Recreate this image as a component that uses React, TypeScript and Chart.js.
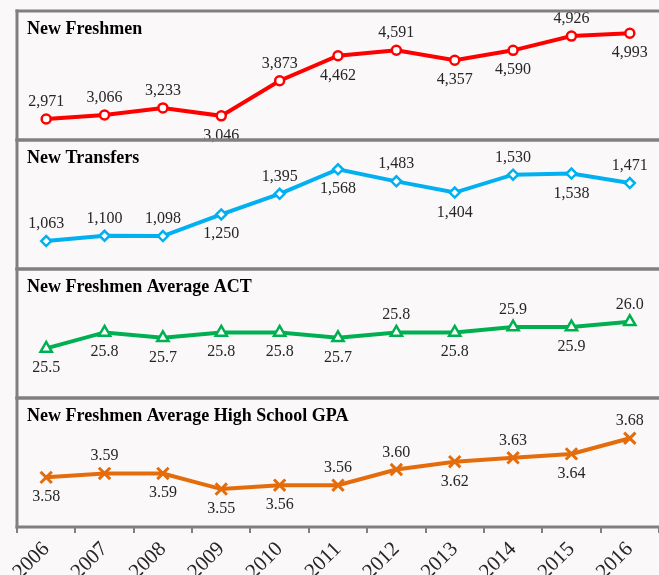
import React, { useEffect, useRef } from 'react';
import { Chart, registerables } from 'chart.js';

Chart.register(...registerables);

const years = ['2006', '2007', '2008', '2009', '2010', '2011', '2012', '2013', '2014', '2015', '2016'];
const newFreshmen = [2971, 3066, 3233, 3046, 3873, 4462, 4591, 4357, 4590, 4926, 4993];
const newTransfers = [1063, 1100, 1098, 1250, 1395, 1568, 1483, 1404, 1530, 1538, 1471];
const avgACT = [25.5, 25.8, 25.7, 25.8, 25.8, 25.7, 25.8, 25.8, 25.9, 25.9, 26.0];
const avgGPA = [3.58, 3.59, 3.59, 3.55, 3.56, 3.56, 3.60, 3.62, 3.63, 3.64, 3.68];

const panelTitles = [
  'New Freshmen',
  'New Transfers',
  'New Freshmen Average ACT',
  'New Freshmen Average High School GPA',
];

// label placement (u = above point, d = below point)
const freshmenLabelSide = ['u', 'u', 'u', 'd', 'u', 'd', 'u', 'd', 'd', 'u', 'd'];
const transfersLabelSide = ['u', 'u', 'u', 'd', 'u', 'd', 'u', 'd', 'u', 'd', 'u'];
const actLabelSide = ['d', 'd', 'd', 'd', 'd', 'd', 'u', 'd', 'u', 'd', 'u'];
const gpaLabelSide = ['d', 'u', 'd', 'd', 'd', 'u', 'u', 'd', 'u', 'd', 'u'];

const BG = '#fbf8f9';
const BORDER = '#808080';
const SERIF = '"Liberation Serif", "Times New Roman", serif';

const fmtInt = (v: number) => v.toLocaleString('en-US');
const fmt1 = (v: number) => v.toFixed(1);
const fmt2 = (v: number) => v.toFixed(2);

const labelSides = [freshmenLabelSide, transfersLabelSide, actLabelSide, gpaLabelSide];
const labelFormats = [fmtInt, fmtInt, fmt1, fmt2];
const axisIds = ['yF', 'yT', 'yA', 'yG'];

const panelPlugin = {
  id: 'panels',
  beforeDatasetsDraw(chart: any) {
    const ctx = chart.ctx;
    const area = chart.chartArea;
    ctx.save();
    ctx.fillStyle = '#000';
    ctx.font = `bold 18px ${SERIF}`;
    ctx.textAlign = 'left';
    ctx.textBaseline = 'alphabetic';
    axisIds.forEach((id, i) => {
      const s = chart.scales[id];
      ctx.fillText(panelTitles[i], area.left + 10, s.top + 23);
    });
    ctx.restore();
  },
  afterDatasetsDraw(chart: any) {
    const ctx = chart.ctx;
    ctx.save();
    ctx.fillStyle = '#262626';
    ctx.font = `16px ${SERIF}`;
    ctx.textAlign = 'center';
    ctx.textBaseline = 'alphabetic';
    chart.data.datasets.forEach((ds: any, i: number) => {
      const meta = chart.getDatasetMeta(i);
      meta.data.forEach((pt: any, j: number) => {
        const txt = labelFormats[i](ds.data[j]);
        const side = labelSides[i][j];
        const y = side === 'u' ? pt.y - 13 : pt.y + 24;
        ctx.fillText(txt, pt.x, y);
      });
    });
    ctx.restore();
  },
  afterDraw(chart: any) {
    const ctx = chart.ctx;
    const area = chart.chartArea;
    ctx.save();
    ctx.strokeStyle = BORDER;
    ctx.lineWidth = 3;
    const right = chart.width + 10;
    axisIds.forEach((id) => {
      const s = chart.scales[id];
      ctx.beginPath();
      ctx.moveTo(area.left - 1.5, s.top);
      ctx.lineTo(right, s.top);
      ctx.moveTo(area.left - 1.5, s.bottom);
      ctx.lineTo(right, s.bottom);
      ctx.stroke();
    });
    ctx.beginPath();
    ctx.moveTo(area.left, area.top - 1.5);
    ctx.lineTo(area.left, area.bottom + 1.5);
    ctx.stroke();
    ctx.restore();
  },
};

function hiddenY(min: number, max: number) {
  return {
    type: 'linear',
    stack: 'panels',
    stackWeight: 1,
    position: 'left',
    min,
    max,
    bounds: 'data',
    offset: false,
    display: true,
    grid: { display: false, drawTicks: false },
    border: { display: false },
    ticks: { display: false },
    afterFit: (s: any) => {
      s.width = 0;
    },
  };
}

export default function App() {
  const ref = useRef<HTMLCanvasElement | null>(null);

  useEffect(() => {
    if (!ref.current) return;
    const mk = (data: number[], color: string, axis: string, style: string, radius: number, bw: number) => ({
      data,
      yAxisID: axis,
      borderColor: color,
      backgroundColor: color,
      borderWidth: 4,
      pointStyle: style,
      pointRadius: radius,
      pointBorderWidth: bw,
      pointBackgroundColor: style === 'crossRot' ? color : '#ffffff',
      pointBorderColor: color,
      tension: 0,
      clip: false,
    });
    const chart = new Chart(ref.current, {
      type: 'line',
      data: {
        labels: years,
        datasets: [
          mk(newFreshmen, '#ff0000', 'yF', 'circle', 4.5, 2.5),
          mk(newTransfers, '#00b0f0', 'yT', 'rectRot', 5, 2.5),
          mk(avgACT, '#00b050', 'yA', 'triangle', 6.5, 2.5),
          mk(avgGPA, '#e46c0a', 'yG', 'crossRot', 8, 3),
        ] as any,
      },
      options: {
        animation: false,
        responsive: false,
        devicePixelRatio: 1,
        layout: { padding: { left: 17, right: 8, top: 11, bottom: 0 } },
        plugins: {
          legend: { display: false },
          tooltip: { enabled: false },
          title: { display: false },
        },
        events: [],
        scales: {
          x: {
            type: 'category',
            offset: true,
            grid: {
              display: true,
              drawOnChartArea: false,
              drawTicks: true,
              tickLength: 6,
              offset: true,
              color: BORDER,
              lineWidth: 2,
            },
            border: { display: false },
            ticks: {
              autoSkip: false,
              maxRotation: 45,
              minRotation: 45,
              padding: 4,
              color: '#262626',
              font: { family: SERIF, size: 21 },
            },
            afterFit: (s: any) => {
              s.height = 48;
            },
          },
          // stacked panels are laid out bottom-up, so list them bottom first
          yG: hiddenY(3.453, 3.783),
          yA: hiddenY(24.57, 26.99),
          yT: hiddenY(866, 1774),
          yF: hiddenY(2477, 5517),
        } as any,
      },
      plugins: [panelPlugin],
    });
    return () => chart.destroy();
  }, []);

  return (
    <div
      style={{
        position: 'fixed',
        left: 0,
        top: 0,
        width: 659,
        height: 575,
        overflow: 'hidden',
        background: BG,
      }}
    >
      <canvas ref={ref} width={670} height={575} style={{ display: 'block', width: 670, height: 575 }} />
    </div>
  );
}
